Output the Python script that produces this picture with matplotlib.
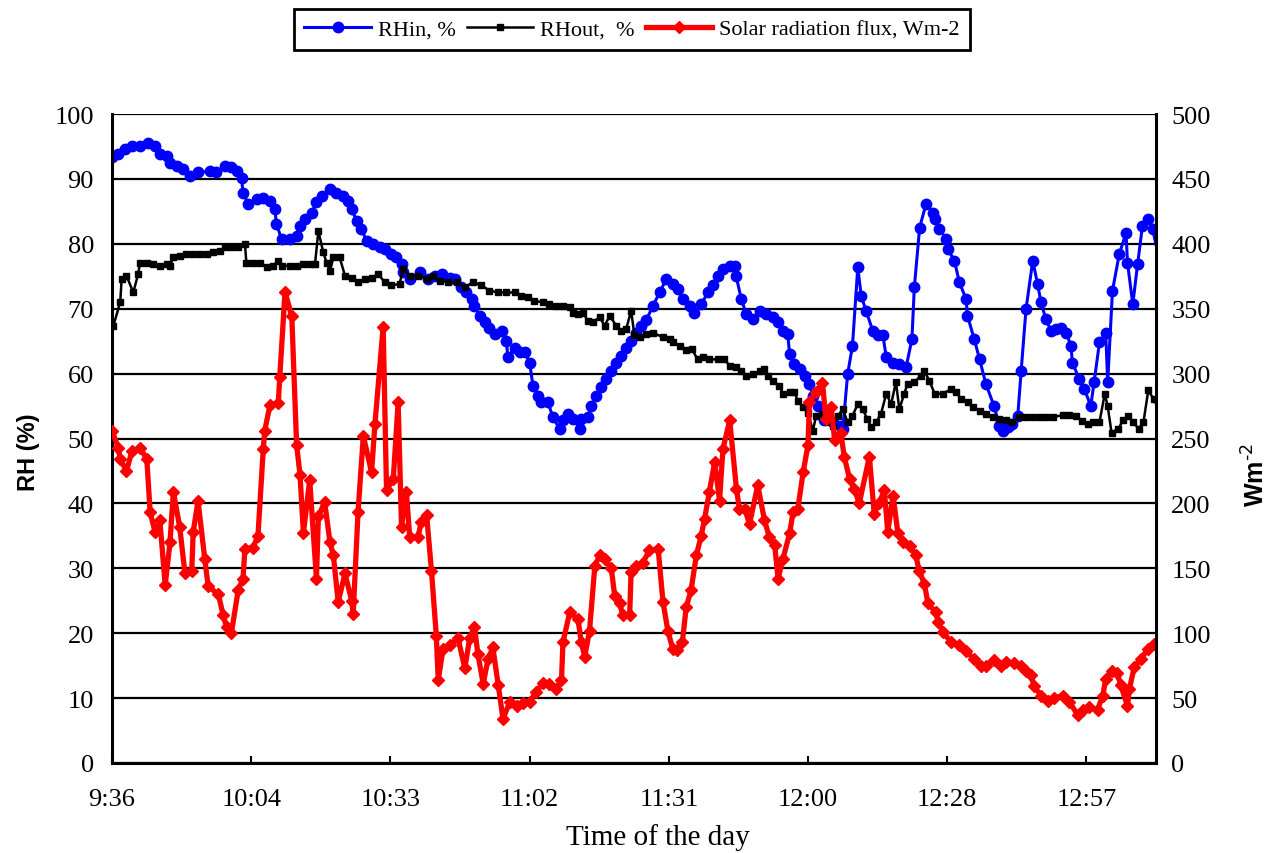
import matplotlib
matplotlib.use('Agg')
import matplotlib.pyplot as plt
from matplotlib.ticker import FixedLocator, FuncFormatter, MultipleLocator
import numpy as np

plt.rcParams['font.family'] = ['Liberation Serif', 'DejaVu Serif']

start_day = 0.4   # 9:36 as fraction of a day, time values below are minutes after it

# RH inside, %
rhin_min = [0, 1.3, 2.7, 4.1, 5.8, 7.5, 8.9, 9.9, 11.3, 12, 13.4, 14.7, 16.1, 17.8, 20.3, 21.6, 23.4, 24.7,
            25.8, 26.8, 27.1, 28.2, 29.9, 31.3, 32.7, 33.7, 34, 35.1, 36.8, 38.2, 38.9, 39.9, 41.3, 42.3,
            43.4, 45.1, 46.4, 47.8, 48.9, 49.6, 50.6, 51.6, 52.7, 54, 55.4, 56.4, 57.8, 58.8, 59.9, 60.2,
            61.6, 63.7, 65.4, 66.8, 68.2, 69.9, 70.9, 72.3, 73.3, 74.4, 75, 76.1, 77.1, 78.1, 79.2, 80.6,
            81.6, 81.9, 83.3, 84.4, 85.4, 86.4, 87.1, 88.1, 88.8, 90.2, 91.2, 92.6, 93.3, 94.3, 95.4, 96.8,
            97.1, 98.5, 99.2, 100.2, 101.2, 102.3, 103.3, 104.3, 105.4, 106.4, 107.4, 108.5, 109.5, 110.5,
            111.9, 113.3, 114.7, 116, 117.1, 118.1, 119.5, 120.5, 121.9, 123.3, 124.3, 125.3, 126.4, 127.8,
            128.8, 129.1, 130.2, 131.2, 132.6, 134, 135.3, 136.7, 137.8, 138.8, 139.8, 140.2, 141.2, 142.3,
            143.3, 144.3, 145, 146, 147.4, 149.1, 150.8, 151.2, 152.2, 153.2, 154.3, 155, 156, 157.4, 158.4,
            159.5, 160.2, 161.5, 162.9, 164.3, 165.5, 166, 167.1, 168.4, 169.8, 170.2, 171.2, 172.6, 172.9,
            174.3, 175.3, 176.7, 177, 178.4, 179.5, 180.8, 182.5, 183.6, 184.3, 185.3, 186.3, 187.4, 188.1,
            189.1, 190.5, 191.5, 192.2, 193.2, 194.3, 195.3, 196.4, 197.4, 198.4, 198.7, 200.1, 201.2, 202.5,
            203.2, 204.3, 205.6, 206, 207, 208.4, 209.8, 210.1, 211.2, 212.2, 213.2, 214.3, 215.3, 217.4]
rhin = [93.3, 93.8, 94.6, 95.1, 95.1, 95.6, 95.1, 93.8, 93.6, 92.5, 92.0, 91.5, 90.5, 91.0, 91.2, 91.0, 92.0, 91.8,
        91.2, 90.2, 87.9, 86.1, 86.9, 87.1, 86.6, 85.4, 83.1, 80.7, 80.7, 81.2, 82.8, 83.8, 84.8, 86.4,
        87.4, 88.4, 87.9, 87.4, 86.6, 85.4, 83.5, 82.3, 80.4, 80.0, 79.5, 79.2, 78.4, 77.9, 76.9, 75.6,
        74.6, 75.6, 74.6, 75.1, 75.3, 74.8, 74.6, 73.3, 72.5, 71.5, 70.4, 68.9, 67.9, 67.1, 66.1, 66.6,
        65.0, 62.5, 64.0, 63.3, 63.3, 61.7, 58.1, 56.6, 55.6, 55.6, 53.3, 51.5, 52.8, 53.8, 53.0, 51.5,
        53.0, 53.3, 55.0, 56.6, 57.9, 59.2, 60.4, 61.7, 62.7, 64.0, 65.0, 66.3, 67.4, 68.2,
        70.4, 72.5, 74.6, 73.8, 73.0, 71.5, 70.4, 69.4, 70.7, 72.5, 73.6, 75.1, 76.1, 76.6,
        76.6, 75.1, 71.5, 69.2, 68.4, 69.7, 69.2, 68.7, 67.9, 66.6, 66.1, 63.0, 61.5, 60.7,
        59.7, 58.4, 56.6, 55.0, 52.8, 52.5, 52.0, 51.5, 59.9, 64.3, 76.4, 72.0, 69.7, 66.6, 65.9,
        65.9, 62.5, 61.7, 61.5, 61.0, 65.3, 73.3, 82.5, 86.1, 84.8, 83.8, 82.3, 80.7, 79.2,
        77.4, 74.1, 71.5, 68.9, 65.3, 62.2, 58.4, 55.0, 52.0, 51.2, 51.7, 52.2, 53.5, 60.4,
        69.9, 77.4, 73.8, 71.0, 68.4, 66.6, 66.9, 67.1, 66.3, 64.3, 61.7, 59.2, 57.6, 55.0,
        58.7, 64.8, 66.3, 58.7, 72.8, 78.4, 81.7, 77.1, 70.7, 76.9, 82.8, 83.8, 82.3, 75.1]

# RH outside, %
rhout_min = [0.3, 1.7, 2, 3, 4.4, 5.4, 5.8, 7.2, 8.5, 9.9, 11.3, 12, 12.7, 14, 15.4, 16.8, 18.2, 19.6, 20.9,
             22.3, 23.4, 24.7, 26.1, 27.5, 27.8, 29.2, 30.6, 32, 33.3, 34.4, 35.1, 36.8, 38.2, 39.6, 40.9,
             42, 42.7, 43.7, 44.4, 45.1, 45.8, 47.1, 48.2, 49.6, 50.9, 52.3, 53.7, 55.1, 56.4, 57.8, 59.5,
             60.2, 61.6, 63.3, 65.1, 66.4, 67.8, 69.5, 71.3, 73, 74.7, 76.4, 78.1, 79.9, 81.6, 83.3, 84.7,
             86.1, 87.4, 89.2, 90.5, 91.9, 93.3, 94.7, 95.4, 96.4, 97.4, 98.5, 99.5, 100.9, 101.9, 103, 104.3,
             105.4, 106.4, 107.4, 108.1, 109.2, 110.5, 111.9, 114, 115.4, 116, 117.5, 118.8, 119.9, 121.2,
             122.2, 123.6, 125.3, 126.7, 127.8, 129.1, 130.2, 131.2, 132.6, 134, 135, 135.7, 136.7, 138.1,
             138.8, 140.2, 141.2, 141.9, 143, 144, 145, 145.7, 146.8, 148.1, 149.2, 150.2, 151.2, 152.2,
             153.2, 154.3, 155.3, 156.3, 157.1, 158.1, 159.1, 160.2, 161.2, 162.2, 162.9, 163.9, 164.6, 166,
             167.4, 168.1, 169.1, 170.2, 171.9, 173.6, 174.7, 175.7, 177.1, 178.1, 179.5, 180.8, 182.2,
             183.6, 185, 186.3, 187.7, 189.1, 190.5, 191.9, 193.3, 194.7, 196.7, 198.1, 199.5, 200.6, 201.9,
             203, 204.3, 205.4, 206, 206.8, 208.2, 209.2, 210.3, 211.3, 212.4, 213.4, 214.4, 215.5, 217.2]
rhout = [67.4, 71.0, 74.6, 75.1, 72.5, 75.3, 77.1, 77.1, 76.9, 76.6, 76.9, 76.6, 77.9, 78.1, 78.4, 78.4, 78.4, 78.4, 78.7,
         78.9, 79.5, 79.5, 79.5, 80.0, 77.1, 77.1, 77.1, 76.4, 76.6, 77.4, 76.6, 76.6, 76.6, 76.9, 76.9,
         76.9, 82.0, 78.7, 77.1, 75.8, 77.9, 77.9, 75.1, 74.8, 74.1, 74.6, 74.8, 75.3, 74.1, 73.6, 73.8,
         76.1, 75.1, 75.1, 74.6, 75.1, 74.3, 74.1, 74.1, 73.3, 74.1, 73.6, 72.8, 72.5, 72.5, 72.5, 72.0,
         71.8, 71.2, 71.0, 70.7, 70.4, 70.4, 70.2, 69.4, 69.2, 69.4, 68.1, 67.9, 68.7, 67.4, 68.9, 67.4,
         66.6, 66.9, 69.7, 65.9, 65.6, 66.1, 66.3, 65.6, 65.3, 64.8, 64.3, 63.6, 63.8, 62.2,
         62.5, 62.2, 62.2, 62.2, 61.2, 61.0, 60.4, 59.7, 59.9, 60.4, 60.7, 59.7, 58.9, 58.1,
         56.9, 57.1, 57.1, 55.8, 54.8, 54.0, 51.2, 53.5, 53.8, 52.5, 52.0, 53.5, 54.5, 52.5,
         53.5, 55.3, 54.5, 53.0, 51.7, 52.5, 53.8, 56.9, 55.3, 58.7, 54.5, 56.9, 58.4, 58.7,
         59.7, 60.4, 58.9, 56.9, 56.9, 57.6, 57.1, 56.1, 55.6, 54.8, 54.3, 53.8, 53.3,
         53.0, 52.8, 52.5, 53.3, 53.3, 53.3, 53.3, 53.3, 53.3, 53.6, 53.6, 53.5, 52.7, 52.2,
         52.5, 52.5, 56.9, 55.0, 50.9, 51.5, 52.8, 53.5, 52.5, 51.5, 52.5, 57.4, 56.1, 53.5]

# solar radiation flux, W/m2
sol_min = [0, 1.3, 1.7, 3.0, 4.1, 5.8, 7.2, 7.9, 8.9, 9.9, 11, 12, 12.7, 14, 15.1, 16.5, 16.8, 17.8, 19.2, 19.9,
           22, 23, 23.7, 24.7, 26.1, 27.1, 27.5, 29.2, 30.2, 31.3, 31.6, 32.7, 34.4, 34.7, 35.8, 37.2, 38.2,
           38.9, 39.6, 40.9, 42.3, 42.7, 44, 45.1, 45.8, 46.8, 48.2, 49.6, 49.9, 50.9, 52, 53.7, 54.4, 56.1,
           56.8, 58.2, 59.2, 59.9, 60.9, 61.6, 63.3, 64, 65.1, 66.1, 67.1, 67.5, 68.5, 69.9, 71.6, 73, 74, 75,
           75.7, 76.8, 77.8, 78.8, 79.9, 80.9, 82.3, 83.7, 85, 86.4, 87.8, 89.2, 90.5, 91.9, 93, 93.3, 94.7,
           96.4, 97.1, 97.8, 98.8, 99.9, 100.9, 101.9, 103.3, 104, 105, 105.7, 107.1, 107.4, 108.5, 109.8,
           111.2, 113, 114, 115, 116, 117, 118, 118.8, 119.8, 120.9, 121.9, 122.6, 123.6, 124.7, 125.7, 126.4,
           127.8, 129.2, 129.8, 130.9, 131.9, 133.6, 135, 136, 137.1, 137.8, 138.8, 140.2, 140.9, 141.9, 143,
           144, 144.3, 145.7, 147, 147.7, 148.8, 149.5, 150.8, 151.5, 152.6, 153.6, 154.6, 156.7, 157.7,
           158.7, 159.8, 160.5, 161.6, 162.6, 163.6, 165, 166.3, 167, 168.1, 168.8, 170.5, 170.9, 171.9,
           173.6, 175.3, 176.7, 178.4, 179.8, 180.8, 182.5, 183.9, 185, 186.7, 188.1, 189.1, 190.1, 190.8,
           192.2, 193.6, 195, 196.7, 198.1, 199.8, 200.8, 202.2, 203.9, 205, 205.6, 207, 208, 208.7, 210.1,
           210.5, 211.5, 212.9, 214.3, 215.6, 217]
sol_flux = [256, 243, 234, 225, 240, 243, 234, 193, 178, 187, 137, 170, 209, 182, 146, 148, 178, 202, 157, 136,
            130, 114, 105, 100, 133, 142, 165, 166, 175, 242, 256, 276, 277, 297, 363, 344, 245,
            222, 177, 218, 142, 190, 201, 170, 160, 124, 146, 125, 115, 193, 252, 224, 261, 336,
            210, 219, 278, 182, 209, 174, 174, 186, 191, 148, 98, 64, 88, 91, 96, 73, 96, 105,
            84, 61, 80, 89, 60, 34, 47, 44, 46, 47, 55, 62, 61, 57, 64, 93, 116,
            111, 93, 82, 102, 152, 160, 157, 150, 129, 123, 114, 114, 147, 152, 154,
            164, 165, 124, 102, 88, 87, 93, 120, 133, 160, 175, 188, 209, 232, 202, 242,
            264, 211, 196, 196, 184, 214, 187, 174, 168, 142, 157, 177, 193, 196, 224,
            245, 278, 286, 293, 265, 274, 249, 254, 236, 219, 211, 200, 236, 192,
            200, 210, 178, 206, 177, 170, 167, 160, 148, 138, 123, 116, 109, 101,
            93, 91, 86, 80, 75, 75, 79, 75, 78, 77, 75, 71, 68, 59,
            52, 48, 50, 52, 47, 37, 41, 43, 41, 52, 65, 71, 69, 60, 44,
            57, 74, 80, 88, 92, 87]


def to_day(mins):
    return start_day + np.asarray(mins) / 1440.0


def clock(x, pos):
    m = int(np.floor(x * 1440 + 1e-6))
    return '%d:%02d' % (m // 60, m % 60)


fig = plt.figure(figsize=(12.76, 8.54), dpi=100)
ax = fig.add_axes([112 / 1276, 1 - 764 / 854, (1156 - 112) / 1276, (764 - 115) / 854])
ax2 = ax.twinx()

ax.plot(to_day(rhin_min), rhin, color='#0000ff', lw=2.2, marker='o', ms=7.5, label='RHin, %')
ax.plot(to_day(rhout_min), rhout, color='black', lw=1.8, marker='s', ms=3.8, label='RHout,  %')
ax2.plot(to_day(sol_min), sol_flux, color='#ff0000', lw=3.8, marker='D', ms=5.8, label='Solar radiation flux, Wm-2')

ax.set_xlim(0.4, 0.55)
ax.set_ylim(0, 100)
ax2.set_ylim(0, 500)
ax.xaxis.set_major_locator(FixedLocator(np.arange(0.4, 0.5401, 0.02)))
ax.xaxis.set_major_formatter(FuncFormatter(clock))
ax.yaxis.set_major_locator(MultipleLocator(10))
ax2.yaxis.set_major_locator(MultipleLocator(50))

ax.yaxis.grid(True, color='black', lw=1.6)
ax.set_axisbelow(True)

for a in (ax, ax2):
    a.spines['top'].set_visible(False)
ax.spines['right'].set_visible(False)
ax2.spines['left'].set_visible(False)
ax2.spines['bottom'].set_visible(False)
ax.spines['left'].set_linewidth(2.2)
ax.spines['bottom'].set_linewidth(2.2)
ax2.spines['right'].set_linewidth(2.2)

ax.tick_params(axis='y', length=0, pad=13, labelsize=19)
ax2.tick_params(axis='y', length=0, pad=11, labelsize=19)
ax.tick_params(axis='x', direction='in', length=5, width=1.5, pad=18, labelsize=19)

fig.text(28 / 1276, 1 - 452 / 854, 'RH (%)', rotation=90, ha='center', va='center',
         family='Liberation Sans', fontweight='bold', fontsize=17)
fig.text(1256 / 1276, 1 - 475 / 854, r'Wm$^{\text{-2}}$', rotation=90, ha='center', va='center',
         family='Liberation Sans', fontweight='bold', fontsize=18)
fig.text(658 / 1276, 1 - 838 / 854, 'Time of the day', ha='center', va='center', fontsize=21)

h1, l1 = ax.get_legend_handles_labels()
h2, l2 = ax2.get_legend_handles_labels()
leg = fig.legend(h1 + h2, l1 + l2, loc='upper center', bbox_to_anchor=(632 / 1276, 1 - 10 / 854), ncol=3,
                 frameon=True, fancybox=False, edgecolor='black', framealpha=1, fontsize=16,
                 handlelength=3.0, columnspacing=0.5, handletextpad=0.3, borderpad=0.45,
                 borderaxespad=0, numpoints=1)
leg.get_frame().set_linewidth(2)

fig.savefig('out.png', dpi=100)
